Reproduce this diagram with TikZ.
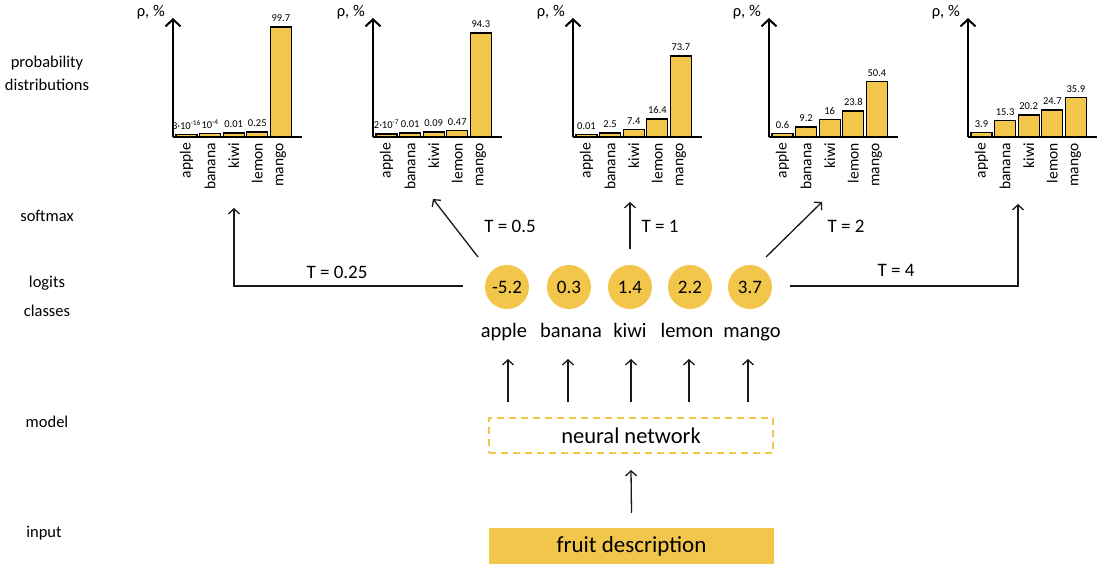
\documentclass[tikz,border=0pt]{standalone}
\usepackage{fontspec}
\setmainfont{Carlito}
\usetikzlibrary{arrows.meta,calc}
\definecolor{fy}{RGB}{242,198,74}
\newcommand\fs[1]{\fontsize{#1}{#1}\selectfont}
\tikzset{
  lbl/.style={font=\fs{16.5}, text height=1.6ex, text depth=.45ex, inner sep=0},
  cls/.style={font=\fs{20.5}, text height=1.6ex, text depth=.45ex, inner sep=0},
  tlab/.style={font=\fs{19}, inner sep=0},
  logit/.style={circle, fill=fy, minimum size=44pt, inner sep=0, font=\fs{19}},
  netbox/.style={draw=fy, line width=2pt, dash pattern=on 7pt off 5pt, minimum width=284pt, minimum height=35pt, inner sep=0, font=\fs{22.5}},
  inbox/.style={fill=fy, minimum width=285pt, minimum height=36pt, inner sep=0, font=\fs{23}},
  conn/.style={draw=black!90, line width=1.3pt, -{Straight Barb[length=5pt,width=11pt]}},
  axisarrow/.style={draw=black, line width=2pt, -{Straight Barb[length=7pt,width=15pt]}},
  baseline/.style={draw=black, line width=2pt},
  bar/.style={draw=black, fill=fy, line width=1.2pt, minimum width=21pt, inner sep=0, outer sep=0},
  val/.style={font=\fs{10.5}, inner sep=0},
  cat/.style={font=\fs{15.5}, inner sep=0, rotate=90, anchor=east},
  ylab/.style={font=\fs{16.5}, inner sep=0},
}
\newcommand\onebar[5]{%
  \node[bar, minimum height=#4pt, anchor=south west] (b#1#3) at (#2+3+23.6*#3,137) {};
  \node[val, anchor=south] (v#1#3) at ([yshift=5pt]b#1#3.north) {#5};
}
\newcommand\chartaxes[2]{%
  \coordinate (o#1) at (#2,137);
  \coordinate (t#1) at (#2,18);
  \coordinate (e#1) at (#2+129,137);
  \draw[axisarrow] (o#1) -- (t#1);
  \draw[baseline] (o#1) -- (e#1);
  \node[ylab, anchor=east] (p#1) at (#2-8,12) {ρ, \%};
  \foreach \c [count=\k from 0] in {apple,banana,kiwi,lemon,mango}
    \node[cat] (c#1\k) at (#2+13.5+23.6*\k,143) {\c};
}
\begin{document}
\begin{tikzpicture}[x=1pt,y=-1pt]
\fill[white] (0,0) rectangle (1100,574);
\useasboundingbox (0,0) rectangle (1100,574);

% left labels
\node[lbl] (L1) at (47,65) {probability};
\node[lbl] (L2) at (47,88) {distributions};
\node[lbl] (L3) at (47,219) {softmax};
\node[lbl] (L4) at (47,285) {logits};
\node[lbl] (L5) at (47,314) {classes};
\node[lbl] (L6) at (47,425) {model};
\node[lbl] (L7) at (44,535) {input};

% chart 1
\onebar{1}{173}{0}{2.7}{3·10\textsuperscript{-16}}
\onebar{1}{173}{1}{3.3}{10\textsuperscript{-4}}
\onebar{1}{173}{2}{4}{0.01}
\onebar{1}{173}{3}{5}{0.25}
\onebar{1}{173}{4}{110}{99.7}
\chartaxes{1}{173}
% chart 2
\onebar{2}{373}{0}{3}{2·10\textsuperscript{-7}}
\onebar{2}{373}{1}{4}{0.01}
\onebar{2}{373}{2}{5}{0.09}
\onebar{2}{373}{3}{6.5}{0.47}
\onebar{2}{373}{4}{104}{94.3}
\chartaxes{2}{373}
% chart 3
\onebar{3}{573}{0}{2.7}{0.01}
\onebar{3}{573}{1}{4}{2.5}
\onebar{3}{573}{2}{7.5}{7.4}
\onebar{3}{573}{3}{18}{16.4}
\onebar{3}{573}{4}{81}{73.7}
\chartaxes{3}{573}
% chart 4
\onebar{4}{769}{0}{3.3}{0.6}
\onebar{4}{769}{1}{10}{9.2}
\onebar{4}{769}{2}{17.5}{16}
\onebar{4}{769}{3}{26}{23.8}
\onebar{4}{769}{4}{55.5}{50.4}
\chartaxes{4}{769}
% chart 5
\onebar{5}{968}{0}{4.5}{3.9}
\onebar{5}{968}{1}{16.5}{15.3}
\onebar{5}{968}{2}{22}{20.2}
\onebar{5}{968}{3}{27}{24.7}
\onebar{5}{968}{4}{39.5}{35.9}
\chartaxes{5}{968}

% logits
\node[logit] (l1) at (507,287) {-5.2};
\node[logit] (l2) at (569,287) {0.3};
\node[logit] (l3) at (630,287) {1.4};
\node[logit] (l4) at (690,287) {2.2};
\node[logit] (l5) at (750,287) {3.7};

% classes
\node[cls] (k1) at (504,335) {apple};
\node[cls] (k2) at (571,335) {banana};
\node[cls] (k3) at (630,335) {kiwi};
\node[cls] (k4) at (687,335) {lemon};
\node[cls] (k5) at (752,335) {mango};

% model and input
\node[netbox] (nn) at (631,435.5) {neural network};
\node[inbox] (fd) at (631.5,546) {fruit description};

\draw[conn] ($(fd.north)+(0,-15)$) -- ($(nn.south)+(0,16)$);
\foreach \i/\xx in {1/508,2/568,3/631,4/689,5/748}
  \draw[conn] ($(nn.north -| \xx,0)+(0,-15)$) -- ($(\xx,0 |- k\i.center)+(0,24)$);

% softmax arrows
\coordinate (d1) at (234,208);
\coordinate (d2) at (433,199);
\coordinate (d3) at (630,202);
\coordinate (d4) at (822,202);
\coordinate (d5) at (1018,204);
\draw[conn] ($(l1.center)+(-44,-1)$) -| (d1);
\draw[conn] ($(l1.center)+(-29,-30)$) -- (d2);
\draw[conn] ($(l3.center)+(0,-38)$) -- (d3);
\draw[conn] ($(l5.center)+(16,-30)$) -- (d4);
\draw[conn] ($(l5.center)+(40,-1)$) -| (d5);

\node[tlab] (T1) at (337,272) {T = 0.25};
\node[tlab] (T2) at (510,226) {T = 0.5};
\node[tlab] (T3) at (660,226) {T = 1};
\node[tlab] (T4) at (846,226) {T = 2};
\node[tlab] (T5) at (896,270) {T = 4};
\end{tikzpicture}
\end{document}
